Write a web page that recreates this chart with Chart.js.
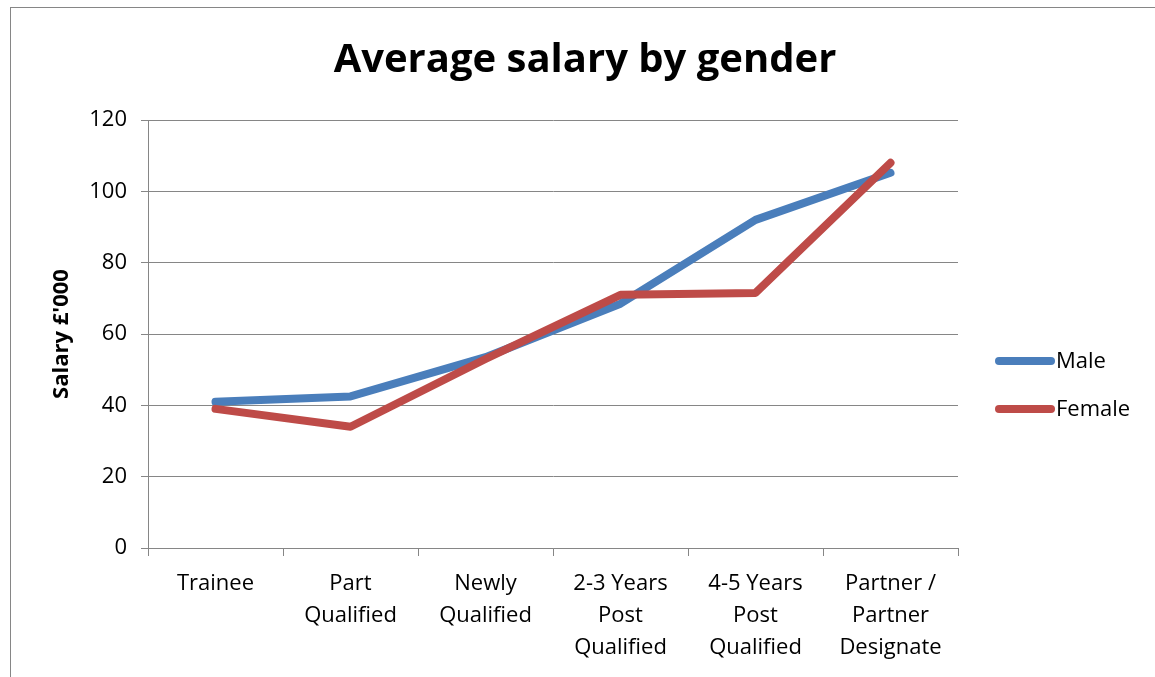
<!DOCTYPE html>
<html>
<head>
<meta charset="utf-8">
<script src="https://cdn.jsdelivr.net/npm/chart.js@4.4.1/dist/chart.umd.min.js"></script>
<style>
  html, body { margin: 0; padding: 0; background: #fff; }
  #wrap { width: 1155px; height: 677px; position: relative; }
</style>
</head>
<body>
<div id="wrap"><canvas id="chart" width="1155" height="677"></canvas></div>
<script>
const categories = [
    ['Trainee'],
    ['Part', 'Qualified'],
    ['Newly', 'Qualified'],
    ['2-3 Years', 'Post', 'Qualified'],
    ['4-5 Years', 'Post', 'Qualified'],
    ['Partner /', 'Partner', 'Designate']
];
const maleValues = [41, 42.5, 53.5, 68.5, 92, 105.2];
const femaleValues = [39, 34, 53, 71, 71.5, 108];
const seriesNames = ['Male', 'Female'];
const seriesColors = ['#4A7EBB', '#BE4B48'];
const chartTitle = 'Average salary by gender';
const yTitle = "Salary £'000";

const gridColor = '#868686';
const fontFamily = '"Open Sans", Lato, sans-serif';

// cadre gris, titre centré sur tout le cadre, légende à droite
const chartFrame = {
    id: 'chartFrame',
    beforeDraw(chart) {
        const ctx = chart.ctx;
        ctx.save();
        ctx.strokeStyle = gridColor;
        ctx.lineWidth = 1;
        ctx.strokeRect(10.5, 7.5, 1300, 800);
        ctx.restore();
    },
    afterDraw(chart) {
        const ctx = chart.ctx;
        ctx.save();
        ctx.fillStyle = '#000';
        ctx.font = 'bold 40px ' + fontFamily;
        ctx.textAlign = 'center';
        ctx.textBaseline = 'middle';
        ctx.fillText(chartTitle, 585, 61);

        const legendY = [361, 409];
        chart.data.datasets.forEach((ds, i) => {
            ctx.strokeStyle = ds.borderColor;
            ctx.lineWidth = 8;
            ctx.lineCap = 'round';
            ctx.beginPath();
            ctx.moveTo(999, legendY[i]);
            ctx.lineTo(1051, legendY[i]);
            ctx.stroke();
            ctx.fillStyle = '#000';
            ctx.font = '22px ' + fontFamily;
            ctx.textBaseline = 'middle';
            ctx.textAlign = 'left';
            ctx.fillText(ds.label, 1056, legendY[i] + 1);
        });
        ctx.restore();
    }
};

const ctx = document.getElementById('chart').getContext('2d');
new Chart(ctx, {
    type: 'line',
    data: {
        labels: categories,
        datasets: [
            {
                label: seriesNames[0],
                data: maleValues,
                borderColor: seriesColors[0],
                backgroundColor: seriesColors[0],
                borderWidth: 8,
                borderCapStyle: 'round',
                borderJoinStyle: 'round',
                pointRadius: 0,
                tension: 0,
                order: 1
            },
            {
                label: seriesNames[1],
                data: femaleValues,
                borderColor: seriesColors[1],
                backgroundColor: seriesColors[1],
                borderWidth: 8,
                borderCapStyle: 'round',
                borderJoinStyle: 'round',
                pointRadius: 0,
                tension: 0,
                order: 0
            }
        ]
    },
    options: {
        responsive: false,
        animation: false,
        layout: { padding: { left: 0, right: 197, top: 120, bottom: 0 } },
        plugins: {
            legend: { display: false },
            tooltip: { enabled: false },
            title: { display: false }
        },
        scales: {
            x: {
                offset: true,
                grid: {
                    offset: true,
                    drawOnChartArea: false,
                    drawTicks: true,
                    tickLength: 8,
                    color: gridColor
                },
                border: { color: gridColor, width: 1 },
                ticks: {
                    color: '#000',
                    font: { family: fontFamily, size: 22, lineHeight: 1.45 },
                    padding: 12,
                    maxRotation: 0,
                    autoSkip: false
                },
                afterFit: scale => { scale.height = 129; }
            },
            y: {
                min: 0,
                max: 120,
                ticks: {
                    stepSize: 20,
                    color: '#000',
                    font: { family: fontFamily, size: 22 },
                    padding: 14
                },
                grid: {
                    color: gridColor,
                    tickLength: 7,
                    lineWidth: 1
                },
                border: { color: gridColor, width: 1 },
                title: {
                    display: true,
                    text: yTitle,
                    color: '#000',
                    font: { family: fontFamily, size: 22, weight: 'bold', lineHeight: 1.2 },
                    padding: { top: 49, bottom: 0 }
                },
                afterFit: scale => { scale.width = 148; }
            }
        }
    },
    plugins: [chartFrame]
});
</script>
</body>
</html>
